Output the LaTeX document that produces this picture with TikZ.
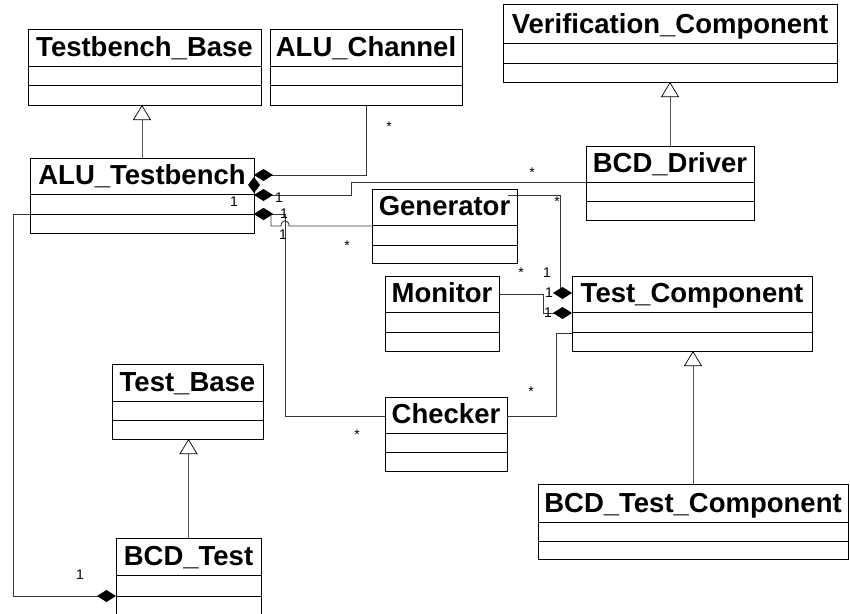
\documentclass[tikz,border=0pt]{standalone}
\usepackage{fontspec}
\setmainfont{Liberation Sans}
\usetikzlibrary{arrows.meta,calc}

% One UML class: name, x1, y1, x2, y2, y of header rule, y of second rule, title
\newcommand{\umlcls}[8]{%
  \node[clsbox, minimum width=#4pt-#2pt, minimum height=#5pt-#3pt] (#1) at (#2,#3) {};
  \draw[clsrule] (#2,#6) -- (#4,#6) (#2,#7) -- (#4,#7);
  \node[clstitle] (#1-title) at ({(#2+#4)/2},#6-10) {#8};
}

\tikzset{
  owner/.tip={Diamond[length=19pt,width=12pt,fill=black,color=black]},
  parent/.tip={Triangle[open,length=15pt,width=18pt,fill=white,color=black,line width=0.7pt]}
}

\begin{document}
\begin{tikzpicture}[x=1pt,y=-1pt,
  clsbox/.style={draw=black, line width=0.9pt, fill=white, rectangle,
    anchor=north west, inner sep=0pt, outer sep=0pt},
  clsrule/.style={draw=black, line width=0.9pt},
  clstitle/.style={anchor=base, inner sep=0pt,
    font=\bfseries\fontsize{27.5}{31}\selectfont},
  conn/.style={draw={rgb,255:red,55;green,55;blue,55}, line width=0.9pt},
  inh/.style={draw={rgb,255:red,85;green,85;blue,85}, line width=0.9pt, -parent},
  mult/.style={inner sep=0pt, font=\fontsize{14}{16}\selectfont}
]
\useasboundingbox (0,0) rectangle (850,613);

% classes
\umlcls{tbase}{28}{29}{261}{105}{66}{85}{Testbench\_Base}
\umlcls{chan}{270}{29}{462}{105}{66}{85}{ALU\_Channel}
\umlcls{verif}{503}{4}{837}{82}{43}{63}{Verification\_Component}
\umlcls{tb}{30}{158}{254}{233}{194}{214}{ALU\_Testbench}
\umlcls{drv}{586}{146}{754}{220}{182}{201}{BCD\_Driver}
\umlcls{gen}{372}{189}{517}{263}{225}{245}{Generator}
\umlcls{mon}{385}{276}{499}{351}{312}{332}{Monitor}
\umlcls{tc}{572}{276}{812}{351}{312}{332}{Test\_Component}
\umlcls{tbs}{112}{364}{263}{439}{401}{420}{Test\_Base}
\umlcls{chk}{385}{397}{507}{471}{433}{452}{Checker}
\umlcls{btc}{538}{484}{848}{559}{522}{541}{BCD\_Test\_Component}
\umlcls{bt}{116}{538}{261}{616}{575}{596}{BCD\_Test}

% generalisations
\draw[inh] (tb.north) -- (tb.north |- tbase.south);
\draw[inh] (drv.north) -- (drv.north |- verif.south);
\draw[inh] (bt.north) -- (bt.north |- tbs.south);
\draw[inh] (btc.north) -- (btc.north |- tc.south);

% compositions owned by ALU_Testbench
\draw[conn, owner-] ($(tb.north east)+(0,17)$) -| (chan.south);
\draw[conn, owner-] ($(tb.north east)+(0,37)$) -- ++(97,0) |- ($(drv.north west)+(0,36)$);
\draw[conn, owner-] ($(tb.north east)+(0,56)$) -- ++(31,0) |- ($(chk.north west)+(0,19)$);
\coordinate (hopA) at ($(tb.north east)+(27,68)$);
\coordinate (hopB) at ($(tb.north east)+(35,68)$);
\draw[conn, owner-] ($(tb.north east)+(0,56)$) -- ++(17,0) |- (hopA)
  .. controls +(0,-7) and +(0,-7) .. (hopB) -- (gen.west);
\draw[conn, owner-] ($(bt.north west)+(0,58)$) -| ($(tb.north west)+(-17,56)$)
  -- ($(tb.north west)+(0,56)$);
% overlapping diamond ends at the right edge of ALU_Testbench
\fill[black] ($(tb.north east)+(0,19)$) -- ++(-6,8) -- ++(6,8) -- ++(6,-8) -- cycle;

% compositions owned by Test_Component
\draw[conn, owner-] ($(tc.north west)+(0,17)$) -- ++(-12,0) |- ($(gen.north east)+(-9,6)$);
\draw[conn, owner-] ($(tc.north west)+(0,37)$) -- ++(-29,0) |- ($(mon.north east)+(0,18)$);
\draw[conn] ($(tc.north west)+(0,57)$) -- ++(-16,0) |- ($(chk.north east)+(0,19)$);

% multiplicities
\node[mult] (m1) at (389,127) {*};
\node[mult] (m2) at (279,198) {1};
\node[mult] (m3) at (532,173) {*};
\node[mult] (m4) at (284,214) {1};
\node[mult] (m5) at (283,235) {1};
\node[mult] (m6) at (347,246) {*};
\node[mult] (m7) at (234,202) {1};
\node[mult] (m8) at (80,575) {1};
\node[mult] (m9) at (557,202) {*};
\node[mult] (m10) at (521,273) {*};
\node[mult] (m11) at (547,273) {1};
\node[mult] (m12) at (549,293) {1};
\node[mult] (m13) at (548,313) {1};
\node[mult] (m14) at (531,392) {*};
\node[mult] (m15) at (357,435) {*};
\end{tikzpicture}
\end{document}
